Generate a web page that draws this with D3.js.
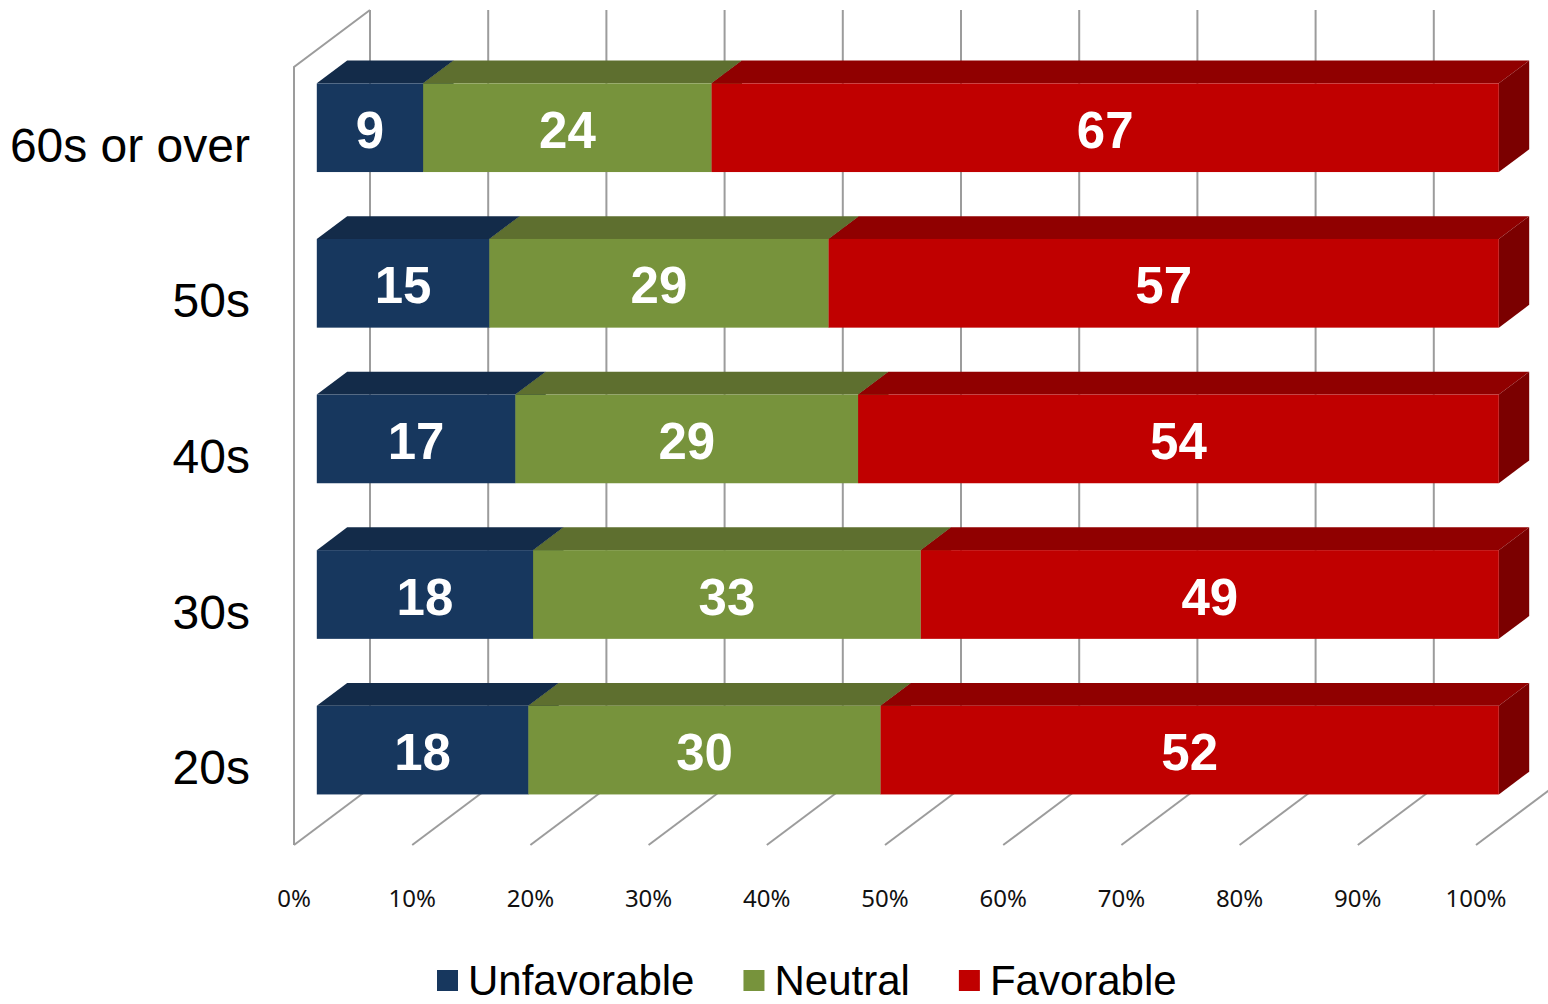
<!DOCTYPE html>
<html>
<head>
<meta charset="utf-8">
<script src="https://cdn.jsdelivr.net/npm/d3@7"></script>
<style>
  html, body { margin: 0; padding: 0; background: #fff; }
  svg { display: block; }
</style>
</head>
<body>
<svg id="chart" width="1548" height="1004"></svg>
<script>
// ---- data ----
const categories = ["60s or over", "50s", "40s", "30s", "20s"];
const seriesNames = ["Unfavorable", "Neutral", "Favorable"];
const unfavorable = [9.0, 14.6, 16.8, 18.3, 17.9];
const neutral     = [24.4, 28.7, 29.0, 32.8, 29.8];
const favorable   = [66.6, 56.7, 54.2, 48.9, 52.3];
const tickValues  = [0, 10, 20, 30, 40, 50, 60, 70, 80, 90, 100];

// ---- styles ----
const frontColors = ["#17375E", "#77933C", "#C00000"];
const topColors   = ["#132B49", "#5E6F2F", "#900000"];
const sideColors  = ["#0F223A", "#4B5A26", "#7B0000"];

const svg = d3.select("#chart");

const x = d3.scaleLinear().domain([0, 100]).range([294, 1476]);
const y = d3.scaleBand().domain(categories).range([67, 845])
  .paddingInner(0.43).paddingOuter(0.215);

// depth projection
const DX = 76, DY = -57;
const P = (v, yy, d) => [x(v) + DX * d, yy + DY * d];
const floorY = 845, wallTop = 67;

const gridColor = "#9c9c9c";
const g = svg.append("g");

// left wall outline
g.append("path")
  .attr("d", d3.line()([P(0, floorY, 0), P(0, wallTop, 0), P(0, wallTop, 1)]))
  .attr("fill", "none").attr("stroke", gridColor).attr("stroke-width", 2);

// back wall gridlines + floor lines
tickValues.forEach(t => {
  g.append("line")
    .attr("x1", P(t, wallTop, 1)[0]).attr("y1", P(t, wallTop, 1)[1])
    .attr("x2", P(t, floorY, 1)[0]).attr("y2", P(t, floorY, 1)[1])
    .attr("stroke", gridColor).attr("stroke-width", 2);
  g.append("line")
    .attr("x1", P(t, floorY, 0)[0]).attr("y1", P(t, floorY, 0)[1])
    .attr("x2", P(t, floorY, 1)[0]).attr("y2", P(t, floorY, 1)[1])
    .attr("stroke", gridColor).attr("stroke-width", 2);
});

// tick labels
g.selectAll("text.tick").data(tickValues).enter().append("text")
  .attr("class", "tick")
  .attr("x", d => x(d)).attr("y", 907)
  .attr("text-anchor", "middle")
  .attr("font-family", "'Noto Sans', 'Open Sans', sans-serif")
  .attr("font-size", 24).attr("fill", "#111")
  .text(d => d + "%");

// category labels
g.selectAll("text.cat").data(categories).enter().append("text")
  .attr("class", "cat")
  .attr("x", 250).attr("y", d => y(d) + y.bandwidth() / 2 + 17)
  .attr("text-anchor", "end")
  .attr("font-family", "'Liberation Sans', Arial, sans-serif")
  .attr("font-size", 48).attr("fill", "#000")
  .text(d => d);

// bars
const D0 = 0.3, D1 = 0.7;
const series = [unfavorable, neutral, favorable];
const poly = pts => d3.line()(pts) + "Z";

categories.forEach((cat, i) => {
  const yt = y(cat), yb = y(cat) + y.bandwidth();
  let cum = 0;
  const segs = series.map((s, k) => {
    const seg = { k, v0: cum, v1: cum + s[i], val: s[i] };
    cum += s[i];
    return seg;
  });
  const bg = svg.append("g");
  segs.forEach(sg => {
    // top face
    bg.append("path")
      .attr("d", poly([P(sg.v0, yt, D0), P(sg.v0, yt, D1), P(sg.v1, yt, D1), P(sg.v1, yt, D0)]))
      .attr("fill", topColors[sg.k]);
    // side face
    bg.append("path")
      .attr("d", poly([P(sg.v1, yt, D0), P(sg.v1, yt, D1), P(sg.v1, yb, D1), P(sg.v1, yb, D0)]))
      .attr("fill", sideColors[sg.k]);
    // front face
    const a = P(sg.v0, yt, D0), b = P(sg.v1, yb, D0);
    bg.append("rect")
      .attr("x", a[0]).attr("y", a[1])
      .attr("width", b[0] - a[0]).attr("height", b[1] - a[1])
      .attr("fill", frontColors[sg.k]);
  });
  segs.forEach(sg => {
    const a = P(sg.v0, yt, D0), b = P(sg.v1, yb, D0);
    bg.append("text")
      .attr("x", (a[0] + b[0]) / 2).attr("y", (a[1] + b[1]) / 2 + 20)
      .attr("text-anchor", "middle")
      .attr("font-family", "'Liberation Sans', Arial, sans-serif")
      .attr("font-weight", "bold").attr("font-size", 51).attr("fill", "#fff")
      .text(Math.round(sg.val));
  });
});

// legend
const lg = svg.append("g");
let lx = 437;
seriesNames.forEach((name, k) => {
  lg.append("rect").attr("x", lx).attr("y", 970).attr("width", 21).attr("height", 21)
    .attr("fill", frontColors[k]);
  const t = lg.append("text").attr("x", lx + 31).attr("y", 995)
    .attr("font-family", "'Liberation Sans', Arial, sans-serif")
    .attr("font-size", 42).attr("fill", "#000").text(name);
  lx += 31 + t.node().getComputedTextLength() + 49;
});
</script>
</body>
</html>
